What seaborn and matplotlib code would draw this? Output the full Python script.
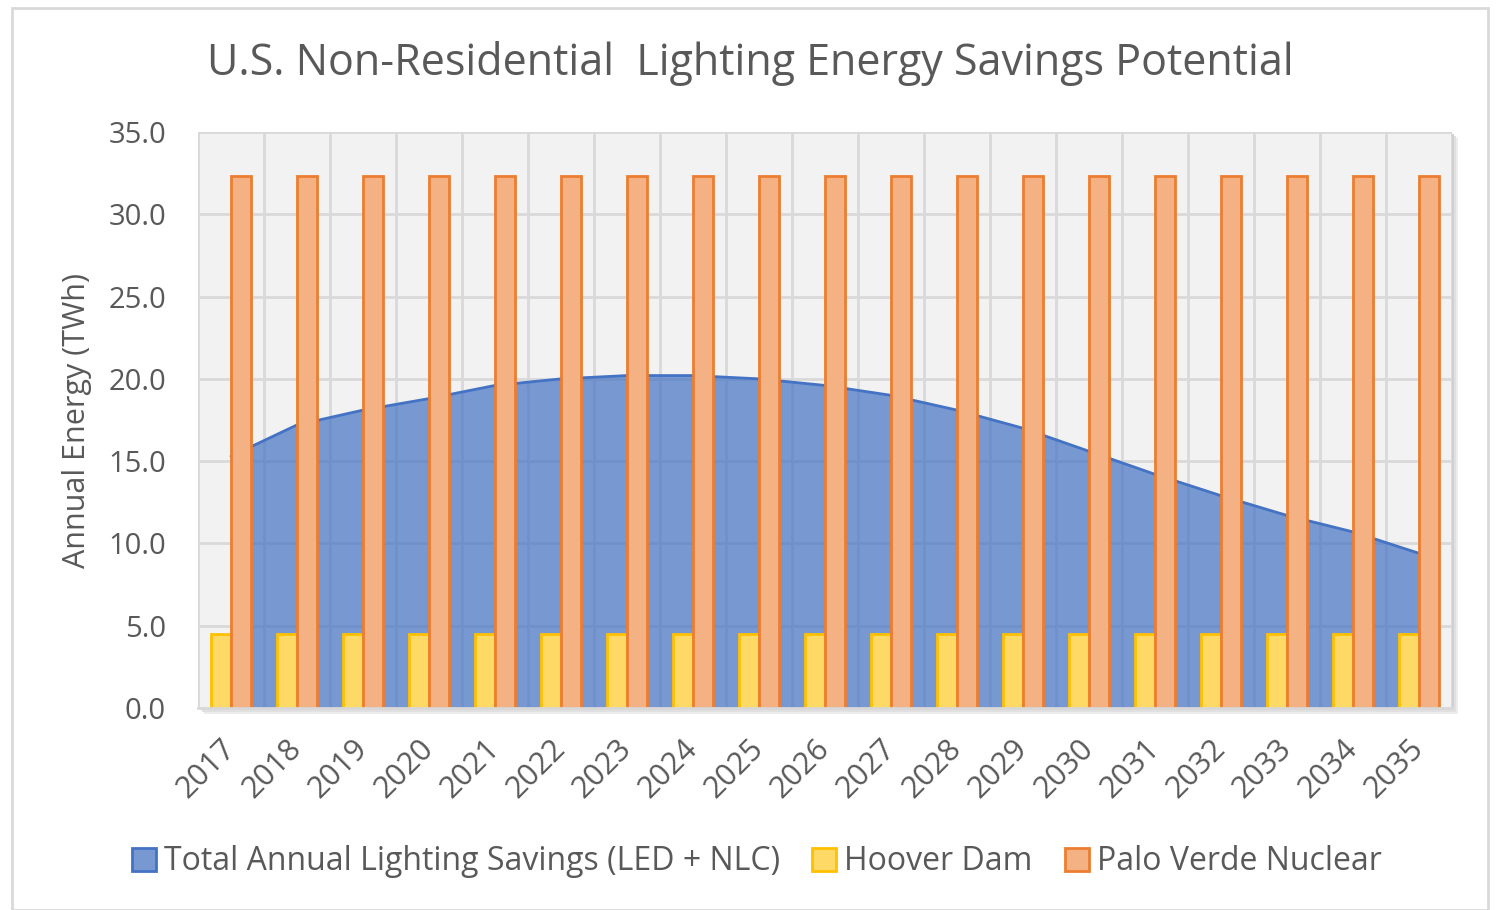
import numpy as np
import pandas as pd
import matplotlib
matplotlib.use('Agg')
import matplotlib.pyplot as plt
import seaborn as sns
from matplotlib.patches import Patch, Rectangle
from matplotlib.ticker import FormatStrFormatter, FixedLocator

# ── Data ───────────────────────────────────────────────────
years = [str(y) for y in range(2017, 2036)]
savings = [15.3, 17.2, 18.1, 18.8, 19.6, 20.0, 20.2, 20.2, 20.0, 19.6,
           19.0, 18.1, 17.0, 15.6, 14.2, 12.9, 11.7, 10.7, 9.4]
hoover = [4.5] * len(years)
palo_verde = [32.3] * len(years)

series_names = ["Total Annual Lighting Savings (LED + NLC)",
                "Hoover Dam", "Palo Verde Nuclear"]

# ── Colours ────────────────────────────────────────────────
AREA_C = "#4472c4"
BAR_FILL = ["#ffd966", "#f4b183"]
BAR_EDGE = ["#ffc000", "#ed7d31"]
TEXT_C = "#595959"
GRID_C = "#d9d9d9"

sns.set_style("white")
plt.rcParams['font.family'] = ['Open Sans', 'DejaVu Sans']

bars = pd.DataFrame({
    "year": years * 2,
    "series": ["Hoover Dam"] * len(years) + ["Palo Verde Nuclear"] * len(years),
    "value": hoover + palo_verde,
})

fig = plt.figure(figsize=(14.96, 9.10), dpi=100)
W, H = 1496, 910

# outer chart border
fig.patches.append(Rectangle((12 / W, 0), (1488 - 12) / W, 1 - 8 / H,
                             transform=fig.transFigure, fill=False,
                             edgecolor="#d9d9d9", linewidth=2, zorder=-2))
# soft plot-area shadow
for off, col in [(6, "#ececec"), (4, "#e0e0e0"), (2, "#d0d0d0")]:
    fig.patches.append(Rectangle(((198 + off) / W, 1 - (708 + off) / H),
                                 (1452 - 198) / W, (708 - 132) / H,
                                 transform=fig.transFigure, facecolor=col,
                                 edgecolor="none", zorder=-1))

ax = fig.add_axes([198 / W, 1 - 708 / H, (1452 - 198) / W, (708 - 132) / H])
ax.set_facecolor("#f2f2f2")

x = np.arange(len(years))

# area series
ax.fill_between(x, savings, 0, color=AREA_C, alpha=0.7, linewidth=0, zorder=1)
ax.plot(x, savings, color=AREA_C, linewidth=2, zorder=1.5)

# columns
sns.barplot(data=bars, x="year", y="value", hue="series",
            palette=BAR_FILL, width=0.6, gap=0.0, saturation=1,
            linewidth=2, legend=False, ax=ax, zorder=2)
for container, ec in zip(ax.containers, BAR_EDGE):
    for p in container:
        p.set_edgecolor(ec)
        p.set_zorder(2)

# ── Axes styling ───────────────────────────────────────────
ax.set_xlim(-0.5, len(years) - 0.5)
ax.set_ylim(0, 35)
ax.set_yticks(np.arange(0, 35.1, 5))
ax.yaxis.set_major_formatter(FormatStrFormatter('%.1f'))
ax.xaxis.set_minor_locator(FixedLocator(np.arange(-0.5, len(years), 1)))
ax.set_axisbelow(True)
ax.grid(axis='y', which='major', color=GRID_C, linewidth=2, zorder=0)
ax.grid(axis='x', which='minor', color=GRID_C, linewidth=2, zorder=0)
ax.grid(axis='x', which='major', visible=False)
for s in ["top", "right", "left"]:
    ax.spines[s].set_visible(False)
ax.spines["bottom"].set_color(GRID_C)
ax.spines["bottom"].set_linewidth(2)

ax.tick_params(axis='y', length=0, pad=23, labelsize=21, labelcolor=TEXT_C)
ax.tick_params(axis='x', which='major', length=0, pad=26, labelsize=22,
               labelcolor=TEXT_C)
ax.tick_params(axis='x', which='minor', length=7, width=2, color=GRID_C)
plt.setp(ax.get_xticklabels(), rotation=45, ha='right', va='center',
         rotation_mode='anchor')

ax.set_xlabel("")
ax.set_ylabel("Annual Energy (TWh)", fontsize=22, color=TEXT_C, labelpad=12)

fig.text(750 / W, 1 - 63 / H,
         "U.S. Non-Residential  Lighting Energy Savings Potential",
         ha='center', va='center', fontsize=31, color=TEXT_C)

handles = [Patch(facecolor="#7898d2", edgecolor=AREA_C, linewidth=2),
           Patch(facecolor=BAR_FILL[0], edgecolor=BAR_EDGE[0], linewidth=2),
           Patch(facecolor=BAR_FILL[1], edgecolor=BAR_EDGE[1], linewidth=2)]
fig.legend(handles, series_names, loc='center', ncol=3, frameon=False,
           bbox_to_anchor=(757 / W, 1 - 862 / H), fontsize=23,
           handlelength=0.75, handleheight=0.75, handletextpad=0.25,
           columnspacing=1.0, labelcolor=TEXT_C)

fig.savefig("out.png", dpi=100)
